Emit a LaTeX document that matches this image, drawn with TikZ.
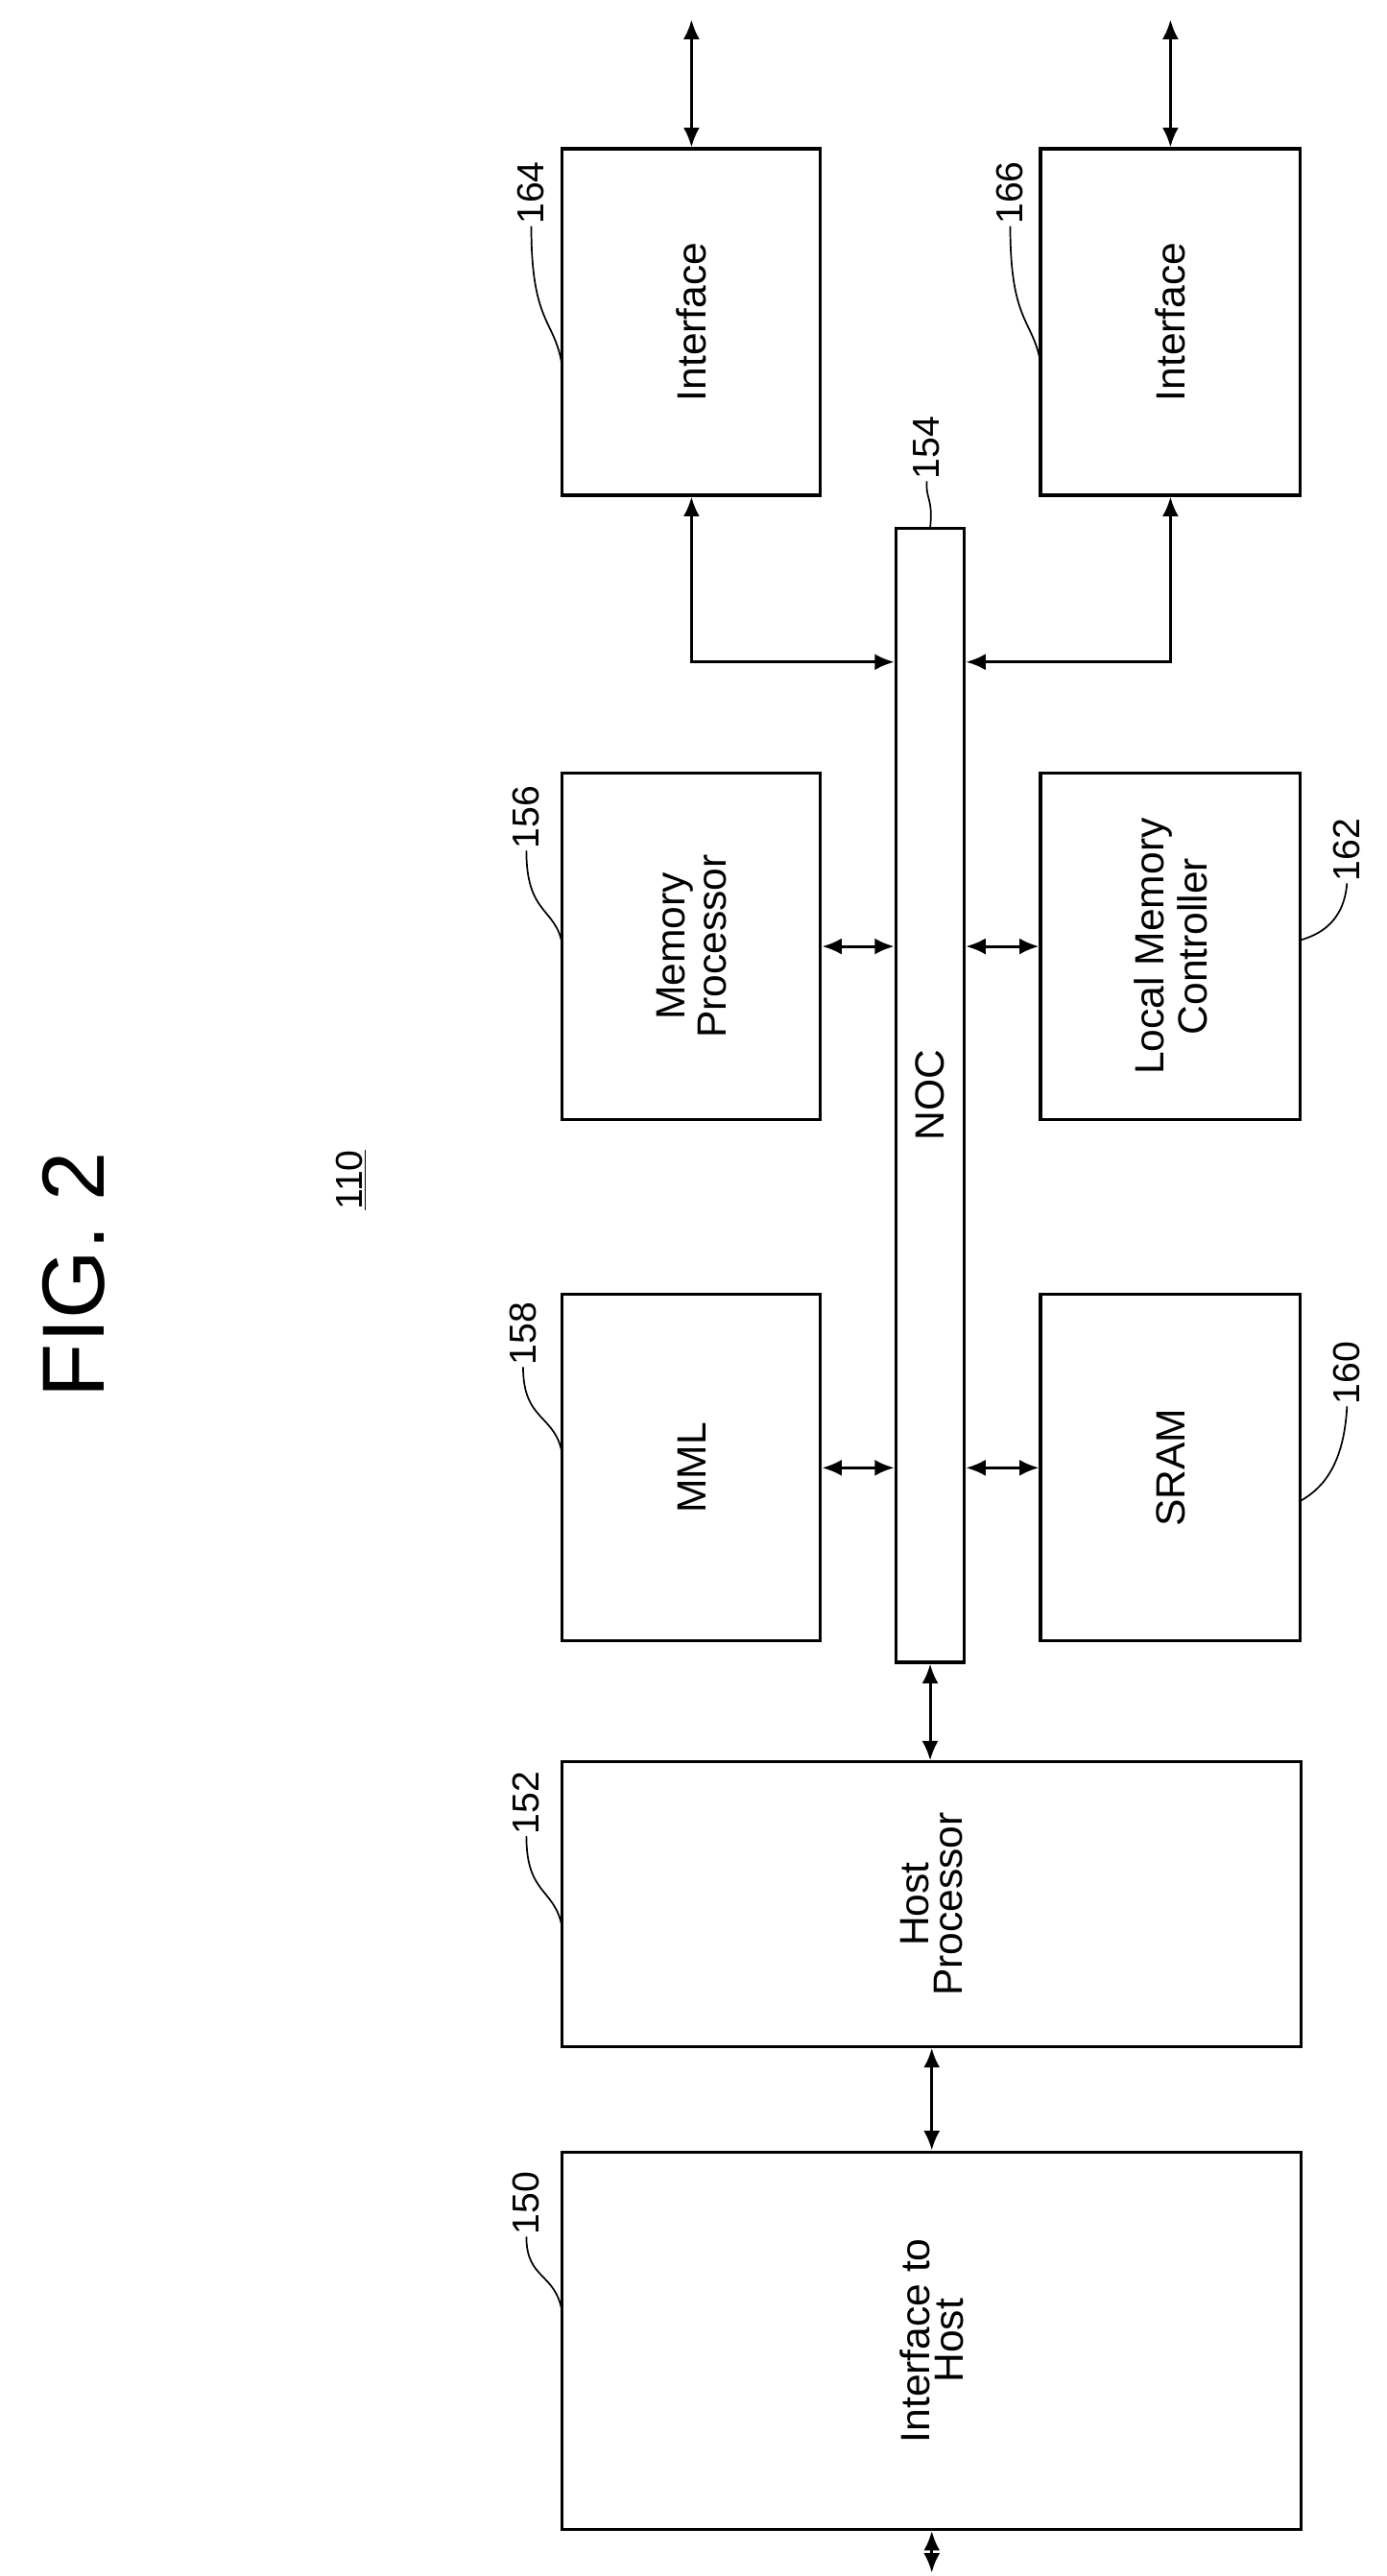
\documentclass[tikz,border=0pt]{standalone}
\usepackage{fontspec}
\setmainfont{Liberation Sans}
\usetikzlibrary{arrows.meta}
\tikzstyle{block} = [rectangle, draw=black, line width=1.8pt, inner sep=0pt, align=center, font=\fontsize{25}{29}\selectfont]
\tikzstyle{arrow} = [line width=1.8pt, {Latex[length=12pt,width=10pt]}-{Latex[length=12pt,width=10pt]}]
\tikzstyle{lead} = [line width=1pt]
\tikzstyle{num} = [font=\fontsize{23}{27}\selectfont, rotate=90, inner sep=1pt]

\begin{document}
\begin{tikzpicture}[x=1pt, y=-1pt]
\useasboundingbox (0,0) rectangle (848,1576);

\node (fig) at (45,780) [rotate=90, font=\fontsize{54}{62}\selectfont] {FIG. 2};
\node (ref) at (215,722) [num] {\underline{110}};

\node (if1) [block, minimum width=158pt, minimum height=212pt] at (423,197) {\rotatebox{90}{Interface}};
\node (if2) [block, minimum width=159pt, minimum height=212pt] at (716,197) {\rotatebox{90}{Interface}};
\node (noc) [block, minimum width=42pt, minimum height=694pt] at (569,670) {\rotatebox{90}{NOC}};
\node (mp) [block, minimum width=158pt, minimum height=212pt] at (423,579) {\rotatebox{90}{\shortstack{Memory\\Processor}}};
\node (lmc) [block, minimum width=159pt, minimum height=212pt] at (716,579) {\rotatebox{90}{\shortstack{Local Memory\\Controller}}};
\node (mml) [block, minimum width=158pt, minimum height=212pt] at (423,898) {\rotatebox{90}{MML}};
\node (sram) [block, minimum width=159pt, minimum height=212pt] at (716,898) {\rotatebox{90}{SRAM}};
\node (host) [block, minimum width=452pt, minimum height=174pt] at (570,1165) {\rotatebox{90}{\shortstack{Host\\Processor}}};
\node (ith) [block, minimum width=452pt, minimum height=231pt] at (570,1432) {\rotatebox{90}{\shortstack{Interface to\\Host}}};

\coordinate (top1) at (423,12);
\coordinate (top2) at (716,12);
\coordinate (bot) at (570,1574);

\draw [arrow] (if1.north) -- (top1);
\draw [arrow] (if2.north) -- (top2);
\draw [arrow] (if1.south) |- (noc.west |- 0,405);
\draw [arrow] (if2.south) |- (noc.east |- 0,405);
\draw [arrow] (mp.east) -- (mp.east -| noc.west);
\draw [arrow] (lmc.west) -- (lmc.west -| noc.east);
\draw [arrow] (mml.east) -- (mml.east -| noc.west);
\draw [arrow] (sram.west) -- (sram.west -| noc.east);
\draw [arrow] (noc.south) -- (host.north -| noc.south);
\draw [arrow] (host.south) -- (ith.north);
\draw [arrow] (ith.south) -- (bot);

% reference numerals
\node (n164) at (325,118) [num] {164};
\draw [lead] (n164.west) .. controls (325,200) and (340,195) .. (344,225);
\node (n166) at (618,118) [num] {166};
\draw [lead] (n166.west) .. controls (618,200) and (633,195) .. (637,225);
\node (n154) at (567,274) [num] {154};
\draw [lead] (n154.west) .. controls (566,305) and (571,305) .. (569,323);
\node (n156) at (322,500) [num] {156};
\draw [lead] (n156.west) .. controls (322,560) and (340,555) .. (344,578);
\node (n158) at (320,816) [num] {158};
\draw [lead] (n158.west) .. controls (320,870) and (340,865) .. (344,890);
\node (n162) at (824,520) [num] {162};
\draw [lead] (n162.west) .. controls (822,565) and (806,572) .. (796,575);
\node (n160) at (824,840) [num] {160};
\draw [lead] (n160.west) .. controls (822,900) and (806,912) .. (796,918);
\node (n152) at (322,1103) [num] {152};
\draw [lead] (n152.west) .. controls (322,1160) and (340,1155) .. (344,1180);
\node (n150) at (322,1348) [num] {150};
\draw [lead] (n150.west) .. controls (322,1395) and (340,1390) .. (344,1415);
\end{tikzpicture}
\end{document}
